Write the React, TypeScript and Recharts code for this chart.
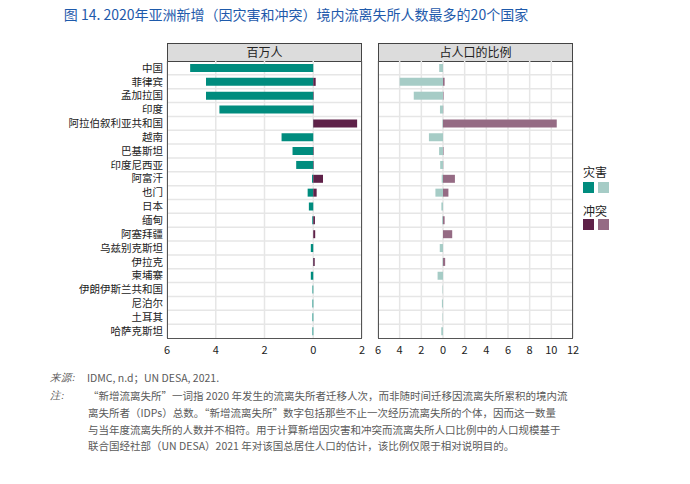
import React from 'react';
import { BarChart, Bar, XAxis, YAxis, CartesianGrid } from 'recharts';

const countries = [
  '中国', '菲律宾', '孟加拉国', '印度', '阿拉伯叙利亚共和国', '越南', '巴基斯坦', '印度尼西亚',
  '阿富汗', '也门', '日本', '缅甸', '阿塞拜疆', '乌兹别克斯坦', '伊拉克', '柬埔寨',
  '伊朗伊斯兰共和国', '尼泊尔', '土耳其', '哈萨克斯坦',
];
// millions of people
const disasterMillions = [5.05, 4.4, 4.4, 3.85, 0.01, 1.3, 0.85, 0.7, 0.05, 0.23, 0.18, 0.04, 0, 0.1, 0.01, 0.1, 0.03, 0.03, 0.03, 0.03];
const conflictMillions = [0, 0.1, 0.02, 0.02, 1.8, 0, 0.02, 0.02, 0.4, 0.14, 0, 0.07, 0.08, 0, 0.06, 0, 0, 0, 0, 0];
// share of population, %
const disasterShare = [0.35, 4.0, 2.7, 0.28, 0.05, 1.3, 0.36, 0.26, 0.12, 0.7, 0.15, 0.08, 0, 0.3, 0.04, 0.5, 0.04, 0.1, 0.04, 0.16];
const conflictShare = [0, 0.15, 0.05, 0.02, 10.5, 0, 0.05, 0.02, 1.1, 0.5, 0, 0.15, 0.85, 0, 0.2, 0, 0, 0, 0, 0];

const leftTicks = [-6, -4, -2, 0, 2];
const rightTicks = [-6, -4, -2, 0, 2, 4, 6, 8, 10, 12];

const DIS_DARK = '#008C7E';
const DIS_LIGHT = '#A6CCC6';
const CON_DARK = '#5E2148';
const CON_LIGHT = '#956B84';

const millionsData = countries.map((name, i) => ({
  name,
  disaster: -disasterMillions[i],
  conflict: conflictMillions[i],
}));
const shareData = countries.map((name, i) => ({
  name,
  disaster: -disasterShare[i],
  conflict: conflictShare[i],
}));

const FONT = '"Noto Sans CJK SC", "Noto Sans", sans-serif';

const rowLines = ({ offset }: any) => {
  const out: number[] = [];
  for (let i = 1; i < countries.length; i++) out.push(offset.top + (i * offset.height) / countries.length);
  return out;
};

const Header = ({ left, label }: { left: number; label: string }) => (
  <div
    style={{
      position: 'absolute', left, top: 43, width: 195, height: 19, boxSizing: 'border-box',
      background: '#DCDCDC', border: '1.5px solid #444', textAlign: 'center',
      fontSize: 12, lineHeight: '16px', color: '#222',
    }}
  >
    {label}
  </div>
);

const Frame = ({ left }: { left: number }) => (
  <div
    style={{
      position: 'absolute', left, top: 61, width: 195, height: 278, boxSizing: 'border-box',
      border: '1.5px solid #555', borderTop: 'none', pointerEvents: 'none',
    }}
  />
);

const noteLine = (top: number, text: string, justify = true) => (
  <div
    style={{
      position: 'absolute', left: 88, top, width: 450, fontSize: 10.5, lineHeight: '14px',
      color: '#5A5A5A', textAlign: 'justify', textAlignLast: justify ? 'justify' : 'left',
      whiteSpace: 'nowrap',
    }}
  >
    {text}
  </div>
);

export default function App() {
  return (
    <div style={{ position: 'relative', width: 690, height: 484, margin: -8, fontFamily: FONT, background: '#fff' }}>
      <div
        style={{
          position: 'absolute', left: 0, top: 4, width: 592, textAlign: 'center',
          fontSize: 14, color: '#1E5AAB', lineHeight: '20px',
        }}
      >
        图 14. 2020年亚洲新增（因灾害和冲突）境内流离失所人数最多的20个国家
      </div>

      <Header left={167} label="百万人" />
      <Header left={378} label="占人口的比例" />

      <div style={{ position: 'absolute', left: 0, top: 61 }}>
        <BarChart
          width={370}
          height={302}
          data={millionsData}
          layout="vertical"
          stackOffset="sign"
          barSize={8}
          margin={{ top: 0, right: 8, bottom: 0, left: 0 }}
        >
          <CartesianGrid stroke="#E6E6E6" strokeWidth={1.5} horizontalCoordinatesGenerator={rowLines} />
          <XAxis
            type="number"
            domain={[-6, 2]}
            ticks={leftTicks}
            interval={0}
            tickFormatter={(v: number) => String(Math.abs(v))}
            axisLine={false}
            tickLine={false}
            tick={{ fontSize: 11, fill: '#222' }}
            height={25}
          />
          <YAxis
            type="category"
            dataKey="name"
            width={167}
            axisLine={false}
            tickLine={false}
            tickSize={2}
            tickMargin={2}
            interval={0}
            tick={{ fontSize: 10.5, fill: '#222' }}
          />
          <Bar dataKey="disaster" stackId="a" fill={DIS_DARK} isAnimationActive={false} />
          <Bar dataKey="conflict" stackId="a" fill={CON_DARK} isAnimationActive={false} />
        </BarChart>
      </div>

      <div style={{ position: 'absolute', left: 370, top: 61 }}>
        <BarChart
          width={215}
          height={302}
          data={shareData}
          layout="vertical"
          stackOffset="sign"
          barSize={8}
          margin={{ top: 0, right: 12, bottom: 0, left: 8 }}
        >
          <CartesianGrid stroke="#E6E6E6" strokeWidth={1.5} horizontalCoordinatesGenerator={rowLines} />
          <XAxis
            type="number"
            domain={[-6, 12]}
            ticks={rightTicks}
            interval={0}
            tickFormatter={(v: number) => String(Math.abs(v))}
            axisLine={false}
            tickLine={false}
            tick={{ fontSize: 11, fill: '#222' }}
            height={25}
          />
          <YAxis type="category" dataKey="name" hide />
          <Bar dataKey="disaster" stackId="a" fill={DIS_LIGHT} isAnimationActive={false} />
          <Bar dataKey="conflict" stackId="a" fill={CON_LIGHT} isAnimationActive={false} />
        </BarChart>
      </div>

      <Frame left={167} />
      <Frame left={378} />

      {/* legend */}
      <div style={{ position: 'absolute', left: 583, top: 164, fontSize: 12, color: '#222', lineHeight: '16px' }}>灾害</div>
      <div style={{ position: 'absolute', left: 583, top: 182, width: 11, height: 11, background: DIS_DARK }} />
      <div style={{ position: 'absolute', left: 598, top: 182, width: 11, height: 11, background: DIS_LIGHT }} />
      <div style={{ position: 'absolute', left: 583, top: 203, fontSize: 12, color: '#222', lineHeight: '16px' }}>冲突</div>
      <div style={{ position: 'absolute', left: 583, top: 219, width: 11, height: 11, background: CON_DARK }} />
      <div style={{ position: 'absolute', left: 598, top: 219, width: 11, height: 11, background: CON_LIGHT }} />

      {/* source and notes */}
      <div style={{ position: 'absolute', left: 50, top: 371, fontSize: 10.5, lineHeight: '14px', color: '#5A5A5A', fontStyle: 'italic', fontFamily: '"Liberation Serif", serif' }}>
        来源:
      </div>
      <div style={{ position: 'absolute', left: 87, top: 371, fontSize: 10.5, lineHeight: '14px', color: '#5A5A5A' }}>
        IDMC, n.d；UN DESA, 2021.
      </div>
      <div style={{ position: 'absolute', left: 50, top: 389, fontSize: 10.5, lineHeight: '14px', color: '#5A5A5A', fontStyle: 'italic', fontFamily: '"Liberation Serif", serif' }}>
        注:
      </div>
      {noteLine(389, '“新增流离失所”一词指 2020 年发生的流离失所者迁移人次，而非随时间迁移因流离失所累积的境内流')}
      {noteLine(406, '离失所者（IDPs）总数。“新增流离失所”数字包括那些不止一次经历流离失所的个体，因而这一数量')}
      {noteLine(423, '与当年度流离失所的人数并不相符。用于计算新增因灾害和冲突而流离失所人口比例中的人口规模基于')}
      {noteLine(439, '联合国经社部（UN DESA）2021 年对该国总居住人口的估计，该比例仅限于相对说明目的。', false)}
    </div>
  );
}
